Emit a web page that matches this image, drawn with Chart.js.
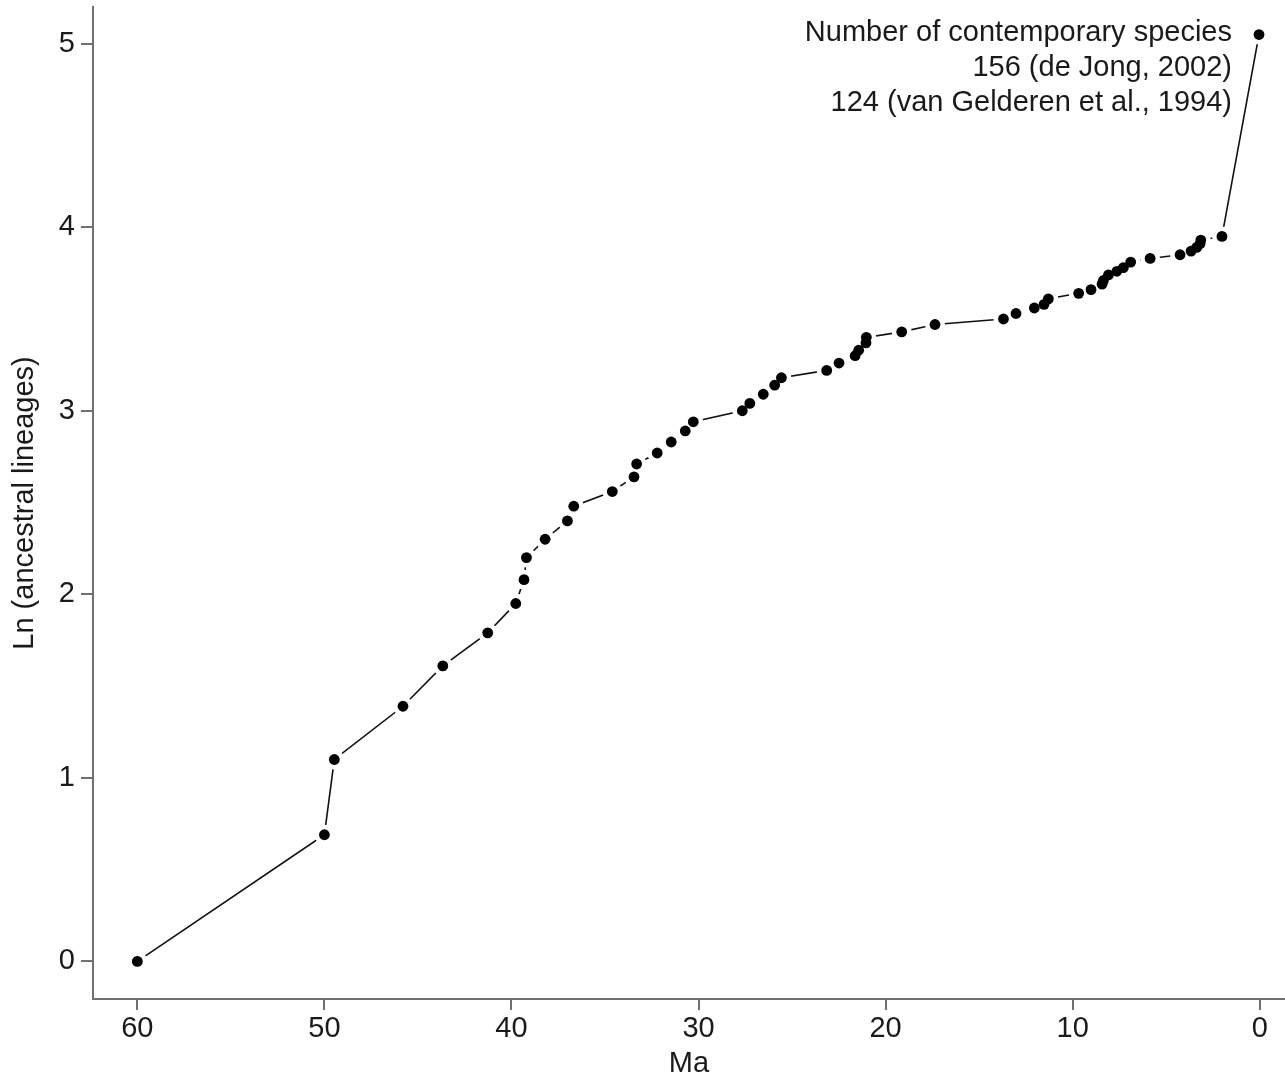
<!DOCTYPE html>
<html>
<head>
<meta charset="utf-8">
<script src="https://cdn.jsdelivr.net/npm/chart.js@4.4.1/dist/chart.umd.min.js"></script>
<style>
  body { margin: 0; background: #fff; }
  canvas { display: block; }
</style>
</head>
<body>
<canvas id="ltt" width="1285" height="1078"></canvas>
<script>
// age of each node (Ma) and ln of the number of ancestral lineages
const ages = [60, 50.0, 49.47, 45.80, 43.67, 41.27, 39.77, 39.33, 39.20, 38.20,
  37.01, 36.67, 34.61, 33.45, 33.31, 32.21, 31.46, 30.71, 30.28, 27.66,
  27.26, 26.54, 25.93, 25.57, 23.15, 22.49, 21.63, 21.44, 21.05, 21.03,
  19.14, 17.36, 13.70, 13.03, 12.05, 11.53, 11.30, 9.68, 9.02, 8.43,
  8.36, 8.09, 7.64, 7.29, 6.90, 5.86, 4.26, 3.67, 3.37, 3.19,
  3.15, 2.02, 0.04];
const lnLineages = [0, 0.69, 1.10, 1.39, 1.61, 1.79, 1.95, 2.08, 2.20, 2.30,
  2.40, 2.48, 2.56, 2.64, 2.71, 2.77, 2.83, 2.89, 2.94, 3.00,
  3.04, 3.09, 3.14, 3.18, 3.22, 3.26, 3.30, 3.33, 3.37, 3.40,
  3.43, 3.47, 3.50, 3.53, 3.56, 3.58, 3.61, 3.64, 3.66, 3.69,
  3.71, 3.74, 3.76, 3.78, 3.81, 3.83, 3.85, 3.87, 3.89, 3.91,
  3.93, 3.95, 5.05];
const xTicks = [60, 50, 40, 30, 20, 10, 0];
const yTicks = [0, 1, 2, 3, 4, 5];
const noteLines = ['Number of contemporary species', '156 (de Jong, 2002)', '124 (van Gelderen et al., 1994)'];

const pts = ages.map((a, i) => ({ x: a, y: lnLineages[i] }));
const FONT = 'Liberation Sans, Arial, sans-serif';
const AXIS = '#707070';

// the note sits to the left of the last point
const notePlugin = {
  id: 'note',
  afterDatasetsDraw(chart) {
    const last = pts[pts.length - 1];
    const px = chart.scales.x.getPixelForValue(last.x);
    const py = chart.scales.y.getPixelForValue(last.y);
    const ctx = chart.ctx;
    ctx.save();
    ctx.font = '29px ' + FONT;
    ctx.fillStyle = '#1a1a1a';
    ctx.textAlign = 'right';
    ctx.textBaseline = 'middle';
    noteLines.forEach((t, i) => ctx.fillText(t, px - 27, py - 2 + i * 35));
    ctx.restore();
  }
};

new Chart(document.getElementById('ltt'), {
  type: 'scatter',
  data: {
    datasets: [
      { // line, with white halos that cut it short near every point
        data: pts,
        showLine: true,
        borderColor: '#111',
        borderWidth: 1.6,
        pointRadius: 10,
        pointBackgroundColor: '#fff',
        pointBorderWidth: 0,
        order: 2
      },
      {
        data: pts,
        pointRadius: 5.4,
        pointBackgroundColor: '#000',
        pointBorderWidth: 0,
        order: 1
      }
    ]
  },
  options: {
    responsive: false,
    animation: false,
    devicePixelRatio: 1,
    layout: { autoPadding: false, padding: { top: 7, right: 0, left: 0, bottom: 0 } },
    plugins: { legend: { display: false }, tooltip: { enabled: false } },
    scales: {
      x: {
        type: 'linear',
        reverse: true,
        min: -1.35,
        max: 62.37,
        afterBuildTicks: s => { s.ticks = xTicks.map(v => ({ value: v })); },
        afterFit: s => { s.height = 79; s.paddingLeft = 0; s.paddingRight = 0; },
        grid: { drawOnChartArea: false, color: AXIS, lineWidth: 2, tickLength: 11 },
        border: { color: AXIS, width: 2 },
        ticks: { font: { family: FONT, size: 29 }, color: '#1a1a1a', padding: 2, maxRotation: 0 },
        title: { display: true, text: 'Ma', font: { family: FONT, size: 29, lineHeight: 1 }, color: '#1a1a1a', padding: { top: 0, bottom: 0 } }
      },
      y: {
        type: 'linear',
        min: -0.205,
        max: 5.2,
        afterBuildTicks: s => { s.ticks = yTicks.map(v => ({ value: v })); },
        afterFit: s => { s.width = 93; s.paddingTop = 0; s.paddingBottom = 0; },
        grid: { drawOnChartArea: false, color: AXIS, lineWidth: 2, tickLength: 12 },
        border: { color: AXIS, width: 2 },
        ticks: { font: { family: FONT, size: 29 }, color: '#1a1a1a', padding: 6 },
        title: { display: true, text: 'Ln (ancestral lineages)', font: { family: FONT, size: 29, lineHeight: 1 }, color: '#1a1a1a', padding: { top: 10, bottom: 0 } }
      }
    }
  },
  plugins: [notePlugin]
});
</script>
</body>
</html>
